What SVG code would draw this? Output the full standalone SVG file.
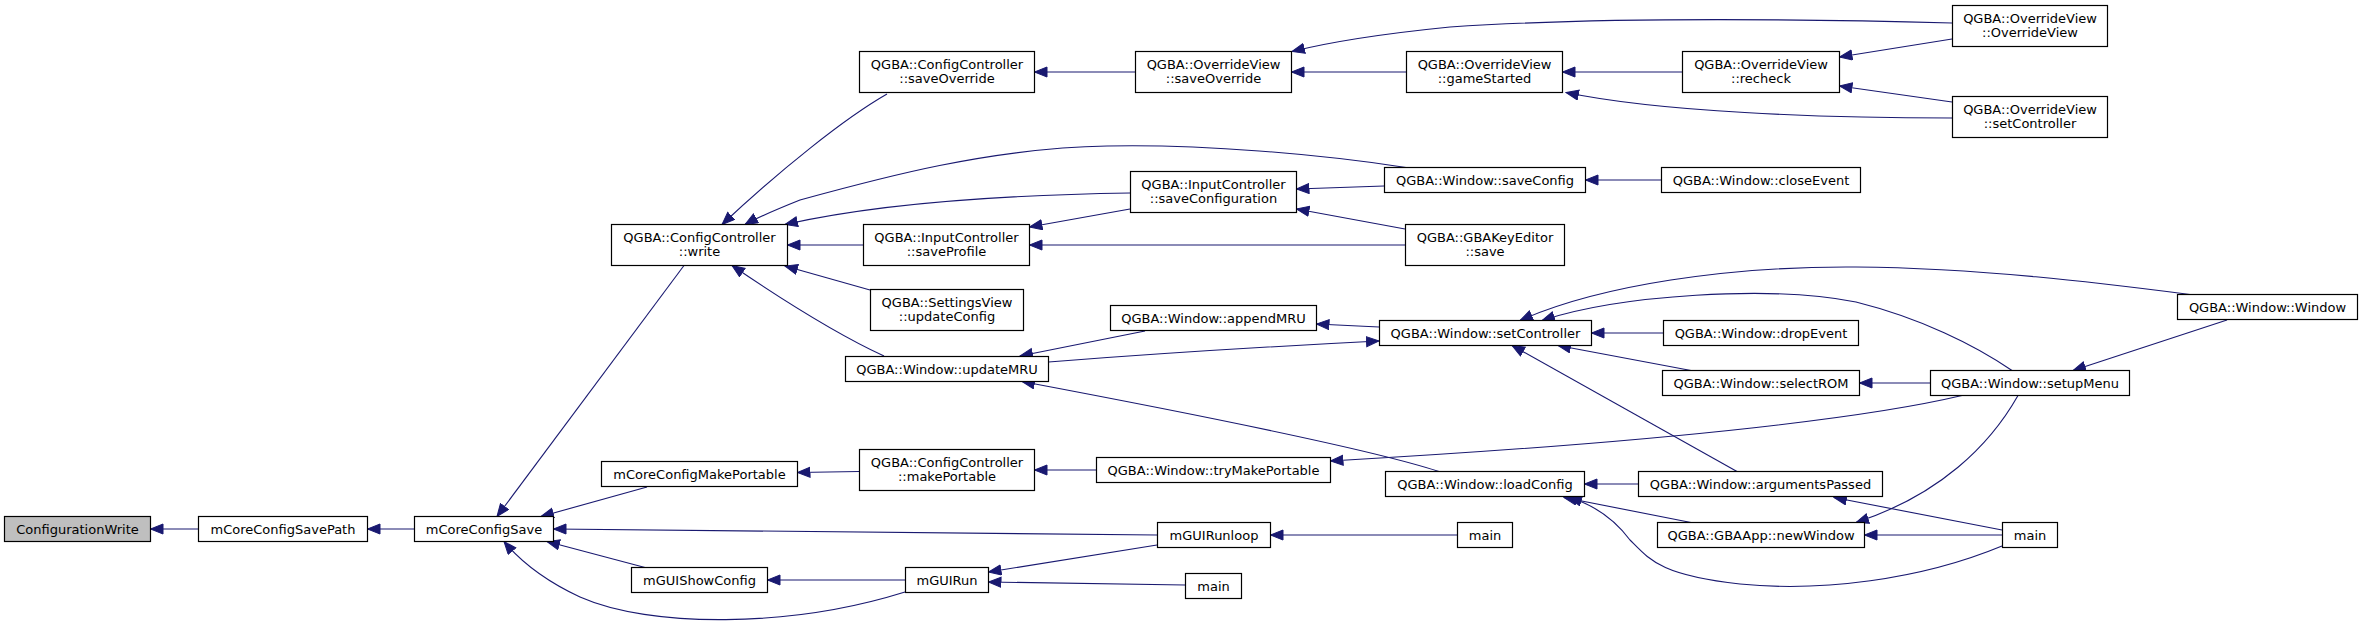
<svg xmlns="http://www.w3.org/2000/svg" width="2363" height="625" viewBox="0 0 2363 625">
<style>
.n rect{fill:#fff;stroke:#000;stroke-width:1.2}
.n.root rect{fill:#bfbfbf}
.n text{font-family:"DejaVu Sans",sans-serif;font-size:13px;fill:#000;text-anchor:middle}
#edges path{fill:none;stroke:#191970;stroke-width:1.1;marker-end:url(#arr)}
</style>
<defs>
<marker id="arr" markerUnits="userSpaceOnUse" markerWidth="14" markerHeight="12" refX="13" refY="5.5" orient="auto">
<path d="M0.5,0.5 L13,5.5 L0.5,10.5 z" fill="#191970" stroke="#191970" stroke-width="1"/>
</marker>
</defs>
<rect width="2363" height="625" fill="#fff"/>
<g id="edges">
<path d="M198.5,529 L150.5,529"/>
<path d="M414.5,529 L367.5,529"/>
<path d="M684,265.5 L497,516.5"/>
<path d="M647,487 L541,516.5"/>
<path d="M1157,535 C900,532 700,529 553.5,529"/>
<path d="M645,567.5 L547,541.5"/>
<path d="M905,592 C790,628 650,628 580,597 C550,583 522,563 504,541.5"/>
<path d="M887,94 C845,118 780,170 722,224.5"/>
<path d="M1406,167.5 C1320,154 1200,144 1107,146 C990,148 880,178 800,200 C780,208 760,216 745,224.5"/>
<path d="M1130,193 C1000,195 880,203 785,224.5"/>
<path d="M863,245 L787.5,245"/>
<path d="M870,290 L785,266"/>
<path d="M884,356 C845,338 790,305 732,265.5"/>
<path d="M859,471.5 L797.5,472.5"/>
<path d="M905,580 L767.5,580"/>
<path d="M1135,72 L1034.5,72"/>
<path d="M1130,209 L1029.5,227"/>
<path d="M1405,245 L1029.5,245"/>
<path d="M1145,331 L1020,356"/>
<path d="M1048.5,362 C1150,354 1280,346 1379,341"/>
<path d="M1439,471.5 C1380,452 1200,415 1022,381.5"/>
<path d="M1379,327 L1316.5,324"/>
<path d="M1096,470 L1034.5,470"/>
<path d="M1157,545 L988.5,572"/>
<path d="M1185,585 L988.5,582"/>
<path d="M1406,72 L1291.5,72"/>
<path d="M1952,23 C1800,19 1600,17 1450,27 C1390,33 1330,42 1292,51.5"/>
<path d="M1682,72 L1562.5,72"/>
<path d="M1952,118 C1820,118 1660,112 1566,92.5"/>
<path d="M1952,39 L1839.5,57"/>
<path d="M1952,102 L1839.5,86"/>
<path d="M1384,186 L1296.5,189"/>
<path d="M1405,229 L1296.5,209"/>
<path d="M1661,180 L1585.5,180"/>
<path d="M2190,294.5 C2100,283 1980,268 1856,267 C1730,266 1600,285 1520,320.5"/>
<path d="M2012,370.5 C1975,345 1920,318 1856,302 C1770,285 1620,295 1542,320.5"/>
<path d="M1663,333 L1591.5,333"/>
<path d="M1691,370.5 L1558,345.5"/>
<path d="M1737,471.5 L1512,345.5"/>
<path d="M1930,383 L1859.5,383"/>
<path d="M1962,395.5 C1880,415 1700,440 1330.5,461"/>
<path d="M2018,395.5 C1990,445 1940,495 1856,522.5"/>
<path d="M2227,320 L2073,370.5"/>
<path d="M1638,484 L1584.5,484"/>
<path d="M1691,522.5 L1564,497.5"/>
<path d="M2002,546 C1920,580 1820,592 1740,584 C1660,575 1650,560 1630,540 C1615,520 1595,505 1569,497.5"/>
<path d="M2002,530 L1834,497.5"/>
<path d="M2002,535 L1864.5,535"/>
<path d="M1457,535 L1270.5,535"/>
</g>
<g id="n0" class="n root"><rect x="4.5" y="516.5" width="146" height="25"/><text x="77.5" y="533.5">ConfigurationWrite</text></g>
<g id="n1" class="n"><rect x="198.5" y="516.5" width="169" height="25"/><text x="283" y="533.5">mCoreConfigSavePath</text></g>
<g id="n2" class="n"><rect x="414.5" y="516.5" width="139" height="25"/><text x="484" y="533.5">mCoreConfigSave</text></g>
<g id="n3" class="n"><rect x="611.5" y="224.5" width="176" height="41"/><text x="699.5" y="242">QGBA::ConfigController</text><text x="699.5" y="256">::write</text></g>
<g id="n4" class="n"><rect x="601.5" y="461.5" width="196" height="25"/><text x="699.5" y="478.5">mCoreConfigMakePortable</text></g>
<g id="n5" class="n"><rect x="631.5" y="567.5" width="136" height="25"/><text x="699.5" y="584.5">mGUIShowConfig</text></g>
<g id="n6" class="n"><rect x="859.5" y="51.5" width="175" height="41"/><text x="947" y="69">QGBA::ConfigController</text><text x="947" y="83">::saveOverride</text></g>
<g id="n7" class="n"><rect x="863.5" y="224.5" width="166" height="41"/><text x="946.5" y="242">QGBA::InputController</text><text x="946.5" y="256">::saveProfile</text></g>
<g id="n8" class="n"><rect x="870.5" y="289.5" width="153" height="41"/><text x="947" y="307">QGBA::SettingsView</text><text x="947" y="321">::updateConfig</text></g>
<g id="n9" class="n"><rect x="845.5" y="356.5" width="203" height="25"/><text x="947" y="373.5">QGBA::Window::updateMRU</text></g>
<g id="n10" class="n"><rect x="859.5" y="449.5" width="175" height="41"/><text x="947" y="467">QGBA::ConfigController</text><text x="947" y="481">::makePortable</text></g>
<g id="n11" class="n"><rect x="905.5" y="567.5" width="83" height="25"/><text x="947" y="584.5">mGUIRun</text></g>
<g id="n12" class="n"><rect x="1135.5" y="51.5" width="156" height="41"/><text x="1213.5" y="69">QGBA::OverrideView</text><text x="1213.5" y="83">::saveOverride</text></g>
<g id="n13" class="n"><rect x="1130.5" y="171.5" width="166" height="41"/><text x="1213.5" y="189">QGBA::InputController</text><text x="1213.5" y="203">::saveConfiguration</text></g>
<g id="n14" class="n"><rect x="1110.5" y="305.5" width="206" height="25"/><text x="1213.5" y="322.5">QGBA::Window::appendMRU</text></g>
<g id="n15" class="n"><rect x="1096.5" y="457.5" width="234" height="25"/><text x="1213.5" y="474.5">QGBA::Window::tryMakePortable</text></g>
<g id="n16" class="n"><rect x="1157.5" y="522.5" width="113" height="25"/><text x="1214" y="539.5">mGUIRunloop</text></g>
<g id="n17" class="n"><rect x="1185.5" y="573.5" width="56" height="25"/><text x="1213.5" y="590.5">main</text></g>
<g id="n18" class="n"><rect x="1406.5" y="51.5" width="156" height="41"/><text x="1484.5" y="69">QGBA::OverrideView</text><text x="1484.5" y="83">::gameStarted</text></g>
<g id="n19" class="n"><rect x="1384.5" y="167.5" width="201" height="25"/><text x="1485" y="184.5">QGBA::Window::saveConfig</text></g>
<g id="n20" class="n"><rect x="1405.5" y="224.5" width="159" height="41"/><text x="1485" y="242">QGBA::GBAKeyEditor</text><text x="1485" y="256">::save</text></g>
<g id="n21" class="n"><rect x="1379.5" y="320.5" width="212" height="25"/><text x="1485.5" y="337.5">QGBA::Window::setController</text></g>
<g id="n22" class="n"><rect x="1385.5" y="471.5" width="199" height="25"/><text x="1485" y="488.5">QGBA::Window::loadConfig</text></g>
<g id="n23" class="n"><rect x="1457.5" y="522.5" width="55" height="25"/><text x="1485" y="539.5">main</text></g>
<g id="n24" class="n"><rect x="1682.5" y="51.5" width="157" height="41"/><text x="1761" y="69">QGBA::OverrideView</text><text x="1761" y="83">::recheck</text></g>
<g id="n25" class="n"><rect x="1661.5" y="167.5" width="199" height="25"/><text x="1761" y="184.5">QGBA::Window::closeEvent</text></g>
<g id="n26" class="n"><rect x="1663.5" y="320.5" width="195" height="25"/><text x="1761" y="337.5">QGBA::Window::dropEvent</text></g>
<g id="n27" class="n"><rect x="1662.5" y="370.5" width="197" height="25"/><text x="1761" y="387.5">QGBA::Window::selectROM</text></g>
<g id="n28" class="n"><rect x="1638.5" y="471.5" width="244" height="25"/><text x="1760.5" y="488.5">QGBA::Window::argumentsPassed</text></g>
<g id="n29" class="n"><rect x="1657.5" y="522.5" width="207" height="25"/><text x="1761" y="539.5">QGBA::GBAApp::newWindow</text></g>
<g id="n30" class="n"><rect x="1952.5" y="5.5" width="155" height="41"/><text x="2030" y="23">QGBA::OverrideView</text><text x="2030" y="37">::OverrideView</text></g>
<g id="n31" class="n"><rect x="1952.5" y="96.5" width="155" height="41"/><text x="2030" y="114">QGBA::OverrideView</text><text x="2030" y="128">::setController</text></g>
<g id="n32" class="n"><rect x="1930.5" y="370.5" width="199" height="25"/><text x="2030" y="387.5">QGBA::Window::setupMenu</text></g>
<g id="n33" class="n"><rect x="2002.5" y="522.5" width="55" height="25"/><text x="2030" y="539.5">main</text></g>
<g id="n34" class="n"><rect x="2177.5" y="294.5" width="180" height="25"/><text x="2267.5" y="311.5">QGBA::Window::Window</text></g>
</svg>
